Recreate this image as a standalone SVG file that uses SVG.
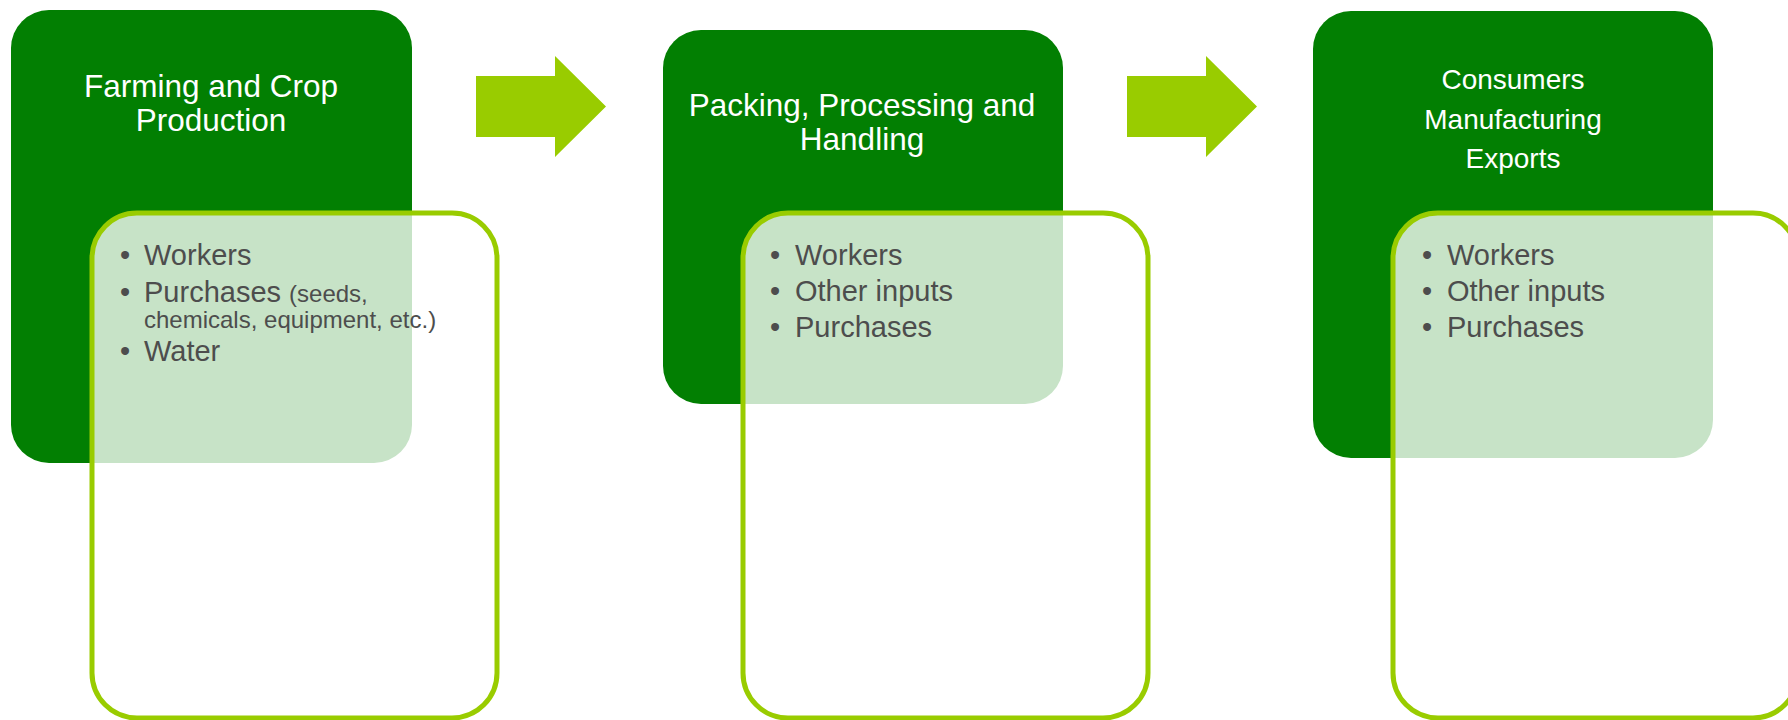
<svg xmlns="http://www.w3.org/2000/svg" width="1788" height="720" viewBox="0 0 1788 720">
  <style>
    .stage { fill: #027f02; }
    .detail { fill: #ffffff; fill-opacity: 0.78; stroke: #99cc00; stroke-width: 5; }
    .title { font-family: "Liberation Sans", Arial, sans-serif; fill: #ffffff; text-anchor: middle; }
    .item { font-family: "Liberation Sans", Arial, sans-serif; fill: #4d4d4d; font-size: 29px; }
    .small { font-size: 24px; }
    .bullet { font-family: "Liberation Sans", Arial, sans-serif; fill: #4d4d4d; font-size: 29px; text-anchor: middle; }
    .arrow { fill: #99cc00; }
  </style>
  <rect width="1788" height="720" fill="#ffffff"/>

  <g id="node-farming">
    <rect class="stage" x="11" y="10" width="401" height="453" rx="38"/>
    <text class="title" font-size="31.5" x="211" y="97">Farming and Crop</text>
    <text class="title" font-size="31.5" x="211" y="131">Production</text>
    <rect class="detail" x="92" y="213" width="405" height="505" rx="45"/>
    <text class="bullet" x="125" y="265">•</text>
    <text class="item" x="144" y="265">Workers</text>
    <text class="bullet" x="125" y="302">•</text>
    <text class="item" x="144" y="302">Purchases <tspan class="small">(seeds,</tspan></text>
    <text class="item small" x="144" y="328">chemicals, equipment, etc.)</text>
    <text class="bullet" x="125" y="361">•</text>
    <text class="item" x="144" y="361">Water</text>
  </g>

  <g id="node-packing">
    <rect class="stage" x="663" y="30" width="400" height="374" rx="38"/>
    <text class="title" font-size="31.5" x="862" y="116">Packing, Processing and</text>
    <text class="title" font-size="31.5" x="862" y="150">Handling</text>
    <rect class="detail" x="743" y="213" width="405" height="505" rx="45"/>
    <text class="bullet" x="775" y="265">•</text>
    <text class="item" x="795" y="265">Workers</text>
    <text class="bullet" x="775" y="301">•</text>
    <text class="item" x="795" y="301">Other inputs</text>
    <text class="bullet" x="775" y="337">•</text>
    <text class="item" x="795" y="337">Purchases</text>
  </g>

  <g id="node-consumers">
    <rect class="stage" x="1313" y="11" width="400" height="447" rx="38"/>
    <text class="title" font-size="28" x="1513" y="89">Consumers</text>
    <text class="title" font-size="28" x="1513" y="129">Manufacturing</text>
    <text class="title" font-size="28" x="1513" y="168">Exports</text>
    <rect class="detail" x="1393" y="213" width="405" height="505" rx="45"/>
    <text class="bullet" x="1427" y="265">•</text>
    <text class="item" x="1447" y="265">Workers</text>
    <text class="bullet" x="1427" y="301">•</text>
    <text class="item" x="1447" y="301">Other inputs</text>
    <text class="bullet" x="1427" y="337">•</text>
    <text class="item" x="1447" y="337">Purchases</text>
  </g>

  <g id="connectors">
    <polygon class="arrow" points="476,76 555,76 555,56 606,106.5 555,157 555,137 476,137"/>
    <polygon class="arrow" points="1127,76 1206,76 1206,56 1257,106.5 1206,157 1206,137 1127,137"/>
  </g>
</svg>
